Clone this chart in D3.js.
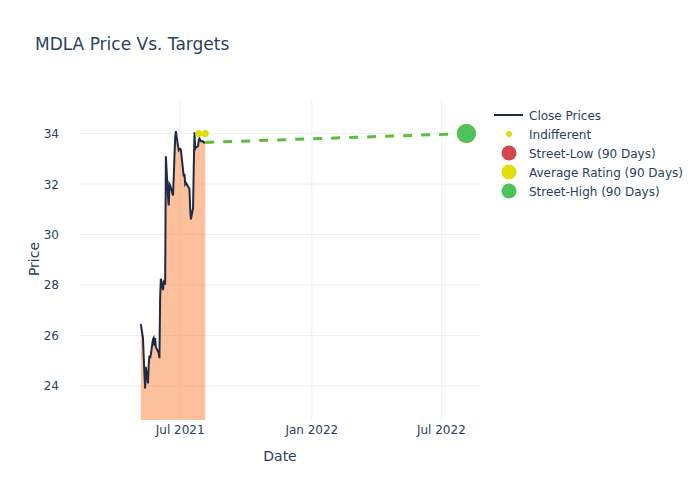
<!DOCTYPE html>
<html><head><meta charset="utf-8">
<script src="https://cdn.jsdelivr.net/npm/d3@7"></script>
<style>body{margin:0;background:#fff}svg{font-family:"DejaVu Sans",Verdana,sans-serif}</style>
</head><body><svg id="c" width="700" height="500"></svg>
<script>
const closeDates = ["2021-05-07","2021-05-10","2021-05-11","2021-05-12","2021-05-13","2021-05-14","2021-05-17","2021-05-18","2021-05-19","2021-05-20","2021-05-21","2021-05-24","2021-05-25","2021-05-26","2021-05-27","2021-05-28","2021-06-01","2021-06-02","2021-06-03","2021-06-04","2021-06-07","2021-06-08","2021-06-09","2021-06-10","2021-06-11","2021-06-14","2021-06-15","2021-06-16","2021-06-17","2021-06-18","2021-06-21","2021-06-22","2021-06-23","2021-06-24","2021-06-25","2021-06-28","2021-06-29","2021-06-30","2021-07-01","2021-07-02","2021-07-06","2021-07-07","2021-07-08","2021-07-09","2021-07-12","2021-07-13","2021-07-14","2021-07-15","2021-07-16","2021-07-19","2021-07-20","2021-07-21","2021-07-22","2021-07-23","2021-07-26","2021-07-27","2021-07-28","2021-07-29","2021-07-30","2021-08-02","2021-08-03","2021-08-04","2021-08-05"];
const closePrices = [26.45,25.9,25.2,24.5,23.9,24.75,24.1,24.8,25.2,25.1,25.25,25.85,25.9,25.6,25.9,25.55,25.3,25.1,27.5,28.25,27.8,28.1,28.05,28.05,33.1,31.5,31.15,32.0,31.95,31.85,31.55,32.3,33.1,33.85,34.1,33.5,33.35,33.4,33.4,33.35,32.3,32.4,32.0,32.05,31.9,31.85,31.8,31.0,30.6,31.05,32.7,34.05,33.4,33.45,33.5,33.75,33.8,33.75,33.7,33.7,33.65,33.65,33.65];
const indifferentDates = ["2021-07-27","2021-08-05"];
const indifferentValues = [34, 34];
const targetLineDates = ["2021-08-05","2022-08-05"];
const targetLineValues = [33.65, 34];
const targetDate = "2022-08-05";
const streetLow = 34, averageRating = 34, streetHigh = 34;
const xTicks = ["2021-07-01","2022-01-01","2022-07-01"];
const xTickLabels = ["Jul 2021","Jan 2022","Jul 2022"];
const yTicks = [24,26,28,30,32,34];
const legendLabels = ["Close Prices","Indifferent","Street-Low (90 Days)","Average Rating (90 Days)","Street-High (90 Days)"];

const P = d3.timeParse("%Y-%m-%d");
const svg = d3.select("#c");
const L=80,R=480,T=100,B=420;
const x = d3.scaleTime().domain([P("2021-02-11"),P("2022-08-24")]).range([L,R]);
const y = d3.scaleLinear().domain([22.65,35.33]).range([B,T]);
const txt = "#2a3f5f", grid = "#ebf0f8";

// grid
svg.append("g").selectAll("line").data(yTicks).join("line")
  .attr("x1",L).attr("x2",R).attr("y1",d=>y(d)).attr("y2",d=>y(d)).attr("stroke",grid);
svg.append("g").selectAll("line").data(xTicks).join("line")
  .attr("y1",T).attr("y2",B).attr("x1",d=>x(P(d))).attr("x2",d=>x(P(d))).attr("stroke",grid);

svg.append("defs").append("clipPath").attr("id","clip").append("rect").attr("x",L).attr("y",T).attr("width",R-L).attr("height",B-T);
const g = svg.append("g").attr("clip-path","url(#clip)");
const data = closeDates.map((d,i)=>({d:P(d),v:closePrices[i]}));
g.append("path").datum(data)
  .attr("d",d3.area().x(d=>x(d.d)).y0(B+5).y1(d=>y(d.v)))
  .attr("fill","rgba(251,129,57,0.5)");
g.append("path").datum(data)
  .attr("d",d3.line().x(d=>x(d.d)).y(d=>y(d.v)))
  .attr("fill","none").attr("stroke","#1f2a44").attr("stroke-width",2);
g.append("path").datum(targetLineDates.map((d,i)=>({d:P(d),v:targetLineValues[i]})))
  .attr("d",d3.line().x(d=>x(d.d)).y(d=>y(d.v)))
  .attr("fill","none").attr("stroke","#5dbd3f").attr("stroke-width",3).attr("stroke-dasharray","9,9");
g.selectAll("circle.ind").data(indifferentDates).join("circle").attr("class","ind")
  .attr("cx",d=>x(P(d))).attr("cy",(d,i)=>y(indifferentValues[i])).attr("r",3.5).attr("fill","#dede0c");
[[streetLow,"#d5474f"],[averageRating,"#e0e008"],[streetHigh,"#4ec35a"]].forEach(([v,c])=>{
  svg.append("circle").attr("cx",x(P(targetDate))).attr("cy",y(v)).attr("r",9.5).attr("fill",c);
});

// axes labels
svg.append("g").selectAll("text").data(yTicks).join("text")
  .attr("x",L-21).attr("y",d=>y(d)+4.5).attr("text-anchor","end").attr("font-size",12).attr("fill",txt).text(d=>d);
svg.append("g").selectAll("text").data(xTicks).join("text")
  .attr("x",d=>x(P(d))).attr("y",434).attr("text-anchor","middle").attr("font-size",12).attr("fill",txt).text((d,i)=>xTickLabels[i]);
svg.append("text").attr("x",280).attr("y",461).attr("text-anchor","middle").attr("font-size",14).attr("fill",txt).text("Date");
svg.append("text").attr("transform","translate(39,259) rotate(-90)").attr("text-anchor","middle").attr("font-size",14).attr("fill",txt).text("Price");
svg.append("text").attr("x",35).attr("y",50).attr("font-size",17).attr("fill",txt).text("MDLA Price Vs. Targets");

// legend
const lg = svg.append("g");
const ly = i=>115+i*19;
lg.append("line").attr("x1",494).attr("x2",523).attr("y1",ly(0)).attr("y2",ly(0)).attr("stroke","#1f2a44").attr("stroke-width",2);
lg.append("circle").attr("cx",509).attr("cy",ly(1)).attr("r",3).attr("fill","#dede0c");
["#d5474f","#e0e008","#4ec35a"].forEach((c,i)=>lg.append("circle").attr("cx",509).attr("cy",ly(i+2)).attr("r",7.5).attr("fill",c));
lg.selectAll("text").data(legendLabels).join("text").attr("x",529).attr("y",(d,i)=>ly(i)+4.5)
  .attr("font-size",12).attr("fill",txt).text(d=>d);
</script></body></html>
